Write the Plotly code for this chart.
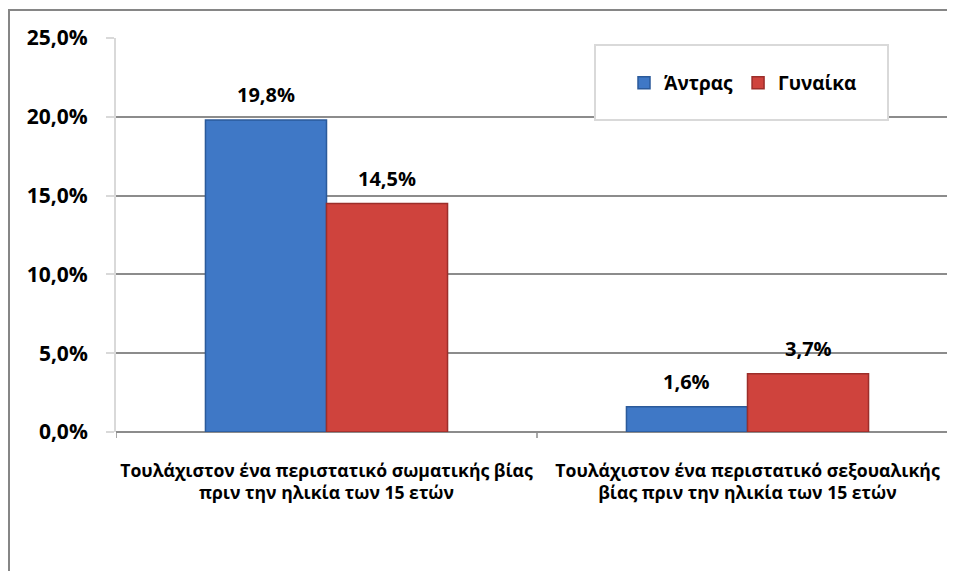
import plotly.graph_objects as go

categories = ["Τουλάχιστον ένα περιστατικό σωματικής βίας<br>πριν την ηλικία των 15 ετών",
              "Τουλάχιστον ένα περιστατικό σεξουαλικής<br>βίας πριν την ηλικία των 15 ετών"]
men = [19.8, 1.6]
women = [14.5, 3.7]
series_names = ["Άντρας", "Γυναίκα"]
tick_vals = [0, 5, 10, 15, 20, 25]
tick_text = ["0,0%", "5,0%", "10,0%", "15,0%", "20,0%", "25,0%"]

# page has an 8px body margin, so the figure is sized to fit the window
OFF = 8
W, H = 955 - 2 * OFF, 579 - 2 * OFF
L, R, T, B = 116 - OFF, 0, 38 - OFF, H - (432 - OFF)
pw, ph = W - L - R, H - T - B
def px(x): return (x - OFF - L) / pw
def py(y): return (H - B - (y - OFF)) / ph

FONT = "Open Sans"
blue, red = "#3f78c6", "#cf433d"

fig = go.Figure()
cat_idx = [0, 1]
fig.add_trace(go.Bar(x=cat_idx, y=men, name=series_names[0],
                     marker=dict(color=blue, line=dict(color="#2b5a9a", width=1.5))))
fig.add_trace(go.Bar(x=cat_idx, y=women, name=series_names[1],
                     marker=dict(color=red, line=dict(color="#9c2e2a", width=1.5))))

bargap = 0.425
bw = (1 - bargap) / 2
annotations = []
for i in cat_idx:
    for vals, off in ((men, -bw / 2), (women, bw / 2)):
        annotations.append(dict(x=i + off, y=vals[i], xref="x", yref="y",
                                text=f"{vals[i]:.1f}%".replace(".", ","),
                                showarrow=False, yshift=25,
                                font=dict(family=FONT, size=20, color="#000000", weight="bold")))

fig.update_layout(
    width=W, height=H,
    margin=dict(l=L, r=R, t=T, b=B),
    plot_bgcolor="white", paper_bgcolor="white",
    barmode="group", bargap=bargap, bargroupgap=0,
    annotations=annotations,
    legend=dict(orientation="h", x=px(743), y=py(83), xanchor="center", yanchor="middle",
                bgcolor="rgba(0,0,0,0)", font=dict(family=FONT, size=19, color="#000000", weight="bold"),
                itemwidth=30, tracegroupgap=0),
    shapes=[
        dict(type="rect", xref="paper", yref="paper", x0=px(9), x1=px(1000), y0=py(700), y1=py(10),
             line=dict(color="#868686", width=2), fillcolor="rgba(0,0,0,0)", layer="below"),
        dict(type="rect", xref="paper", yref="paper", x0=px(595), x1=px(888), y0=py(120), y1=py(45),
             line=dict(color="#d9d9d9", width=2), fillcolor="white", layer="above"),
    ],
    font=dict(family=FONT),
)
fig.update_xaxes(
    type="linear", range=[-0.5, -0.5 + pw / 421], tickvals=cat_idx, ticktext=categories,
    showgrid=False, zeroline=False, showline=False,
    ticks="", ticklabelstandoff=26,
    tickfont=dict(family=FONT, size=17.6, color="#000000", weight="bold"),
)
for bx in [-0.5, 0.5]:
    fig.add_shape(type="line", xref="x", yref="paper", x0=bx, x1=bx, y0=0, y1=-6 / ph,
                  line=dict(color="#8c8c8c", width=1.5))
fig.update_yaxes(
    range=[0, 25], tickvals=tick_vals, ticktext=tick_text,
    showgrid=True, gridcolor="#8c8c8c", gridwidth=2,
    zeroline=True, zerolinecolor="#8c8c8c", zerolinewidth=2,
    showline=True, linecolor="#d9d9d9", linewidth=2,
    ticks="outside", ticklen=8, tickcolor="#d9d9d9", tickwidth=2,
    ticklabelstandoff=14,
    tickfont=dict(family=FONT, size=21, color="#000000", weight="bold"),
)
fig.write_html("out.html")
